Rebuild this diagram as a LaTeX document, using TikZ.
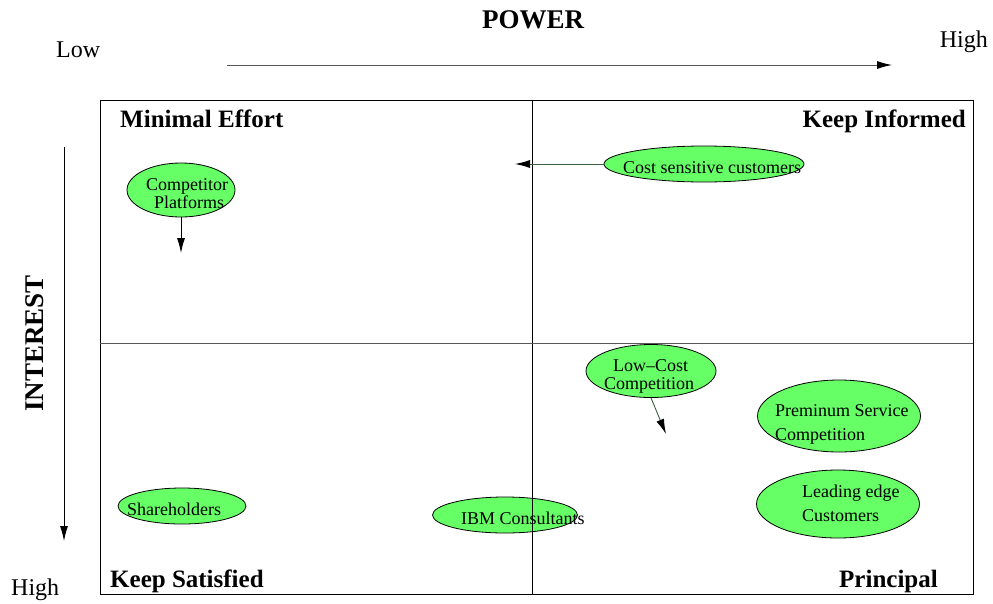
\documentclass[tikz,border=0pt]{standalone}
\usepackage{fontspec}
\setmainfont{Liberation Serif}
\usetikzlibrary{shapes.geometric,arrows.meta}
\definecolor{blobgreen}{RGB}{102,255,102}
\definecolor{linkgreen}{RGB}{60,95,60}
\definecolor{axisgray}{RGB}{85,85,85}
\begin{document}
\begin{tikzpicture}[x=1pt,y=-1pt,
  blob/.style={ellipse, draw=black, line width=0.8pt, fill=blobgreen, inner sep=0pt},
  lbl/.style={inner sep=0pt, anchor=base west, font=\fontsize{18}{18}\selectfont},
  axislbl/.style={inner sep=0pt, font=\fontsize{24}{24}\selectfont},
  quad/.style={inner sep=0pt, font=\fontsize{25}{25}\selectfont\bfseries},
  heading/.style={inner sep=0pt, font=\fontsize{27}{27}\selectfont\bfseries},
  link/.style={line width=0.9pt, -{Latex[length=15pt,width=8pt,color=black]}},
  frame/.style={line width=0.9pt}]
\useasboundingbox (0,0) rectangle (993,603);

% axis titles and ends
\node[heading, anchor=base] (power) at (533,28) {POWER};
\node[heading, anchor=base, rotate=90] (interest) at (43,343.5) {INTEREST};
\node[axislbl, anchor=base west] (low) at (56,57) {Low};
\node[axislbl, anchor=base east] (hightop) at (988,47) {High};
\node[axislbl, anchor=base west] (highbot) at (11,595) {High};

% axis arrows
\coordinate (pstart) at (227,65);
\coordinate (pend) at (892,65);
\coordinate (istart) at (64,147);
\coordinate (iend) at (64,541);
\draw[link, draw=axisgray] (pstart) -- (pend);
\draw[link] (istart) -- (iend);

% stakeholder ellipses
\node[blob, minimum width=108, minimum height=54] (comp) at (181,190) {};
\node[blob, minimum width=200, minimum height=36] (cost) at (704,164) {};
\node[blob, minimum width=130, minimum height=53] (lowc) at (651,371) {};
\node[blob, minimum width=163, minimum height=72] (prem) at (839,416) {};
\node[blob, minimum width=163, minimum height=68] (lead) at (838,504) {};
\node[blob, minimum width=128, minimum height=36] (share) at (182,506) {};
\node[blob, minimum width=145, minimum height=36] (ibm) at (505,515) {};

% quadrant frame
\draw[frame] (100,100) rectangle (973,594);
\draw[frame] (532,100) -- (532,594);
\draw[frame, draw=black!65] (100,343) -- (973,343);

% quadrant titles
\node[quad, anchor=base west] (minimal) at (120,127) {Minimal Effort};
\node[quad, anchor=base east] (informed) at (966,127) {Keep Informed};
\node[quad, anchor=base west] (satisfied) at (110,587) {Keep Satisfied};
\node[quad, anchor=base east] (principal) at (938,587) {Principal};

% ellipse texts
\node[lbl] (comp-a) at (146,190.7) {Competitor};
\node[lbl] (comp-b) at (154,208.2) {Platforms};
\node[lbl] (cost-a) at (623,173) {Cost sensitive customers};
\node[lbl] (lowc-a) at (613,371.2) {Low--Cost};
\node[lbl] (lowc-b) at (604,389) {Competition};
\node[lbl] (prem-a) at (775,416) {Preminum Service};
\node[lbl] (prem-b) at (775,440) {Competition};
\node[lbl] (lead-a) at (802,497.3) {Leading edge};
\node[lbl] (lead-b) at (802,521) {Customers};
\node[lbl] (share-a) at (127,515) {Shareholders};
\node[lbl] (ibm-a) at (461,524) {IBM Consultants};

% movement arrows
\coordinate (comp-to) at (181,253);
\coordinate (cost-to) at (515,164);
\coordinate (lowc-to) at (666,434);
\draw[link] (comp.south) -- (comp-to);
\draw[link, draw=linkgreen] (cost.west) -- (cost-to);
\draw[link, draw=linkgreen] (lowc.south) -- (lowc-to);
\end{tikzpicture}
\end{document}
